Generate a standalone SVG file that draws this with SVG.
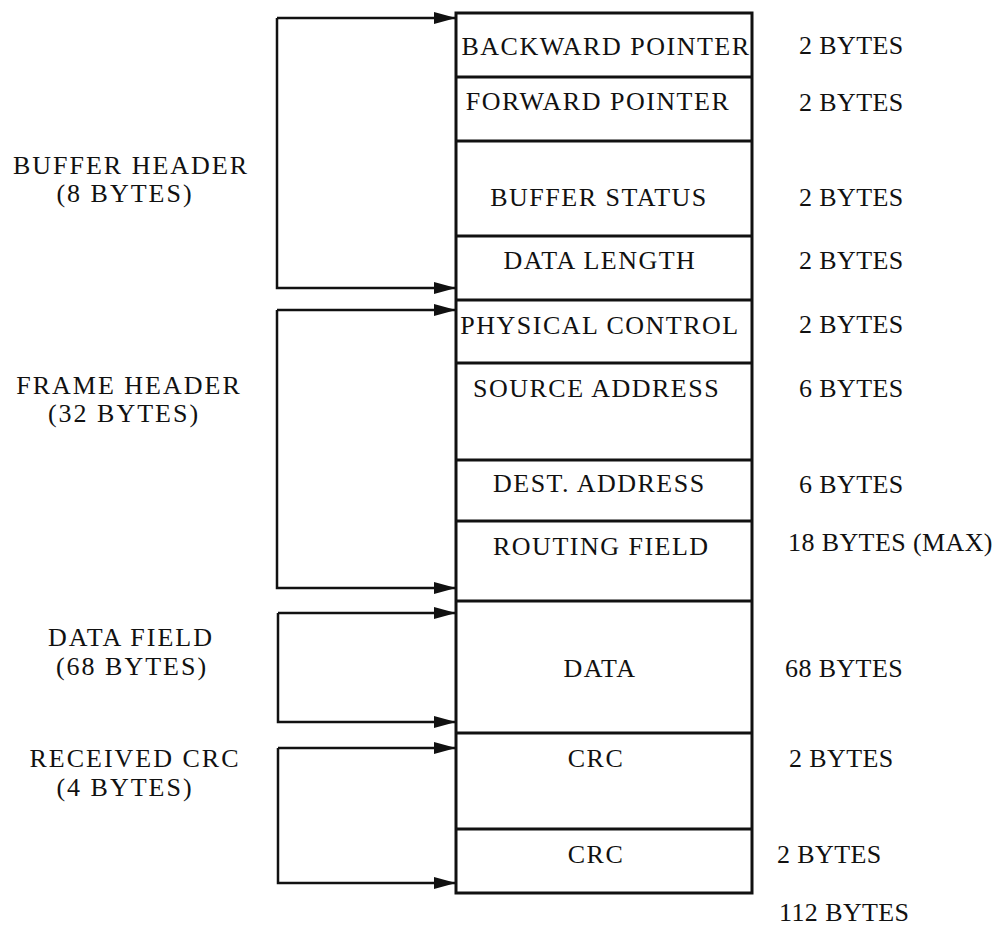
<svg xmlns="http://www.w3.org/2000/svg" width="999" height="928" viewBox="0 0 999 928">
<style>
text{font-family:"Liberation Serif","Times New Roman",serif;font-size:26px;letter-spacing:1.5px;fill:#111}
.m{text-anchor:middle}
.l{letter-spacing:2px}
.r{letter-spacing:0.4px}
.box{fill:none;stroke:#111;stroke-width:3}
.div{stroke:#111;stroke-width:3}
.br{fill:none;stroke:#111;stroke-width:2.5}
</style>
<defs>
<marker id="ah" markerUnits="userSpaceOnUse" markerWidth="22" markerHeight="12" refX="21" refY="6" orient="auto">
<path d="M0,0 L22,6 L0,12 Z" fill="#111"/>
</marker>
</defs>
<g id="frame-box">
<rect class="box" x="456" y="13" width="296" height="880"/>
</g>
<g id="field-dividers">
<line class="div" x1="456" y1="77" x2="752" y2="77"/>
<line class="div" x1="456" y1="141" x2="752" y2="141"/>
<line class="div" x1="456" y1="236" x2="752" y2="236"/>
<line class="div" x1="456" y1="300" x2="752" y2="300"/>
<line class="div" x1="456" y1="363" x2="752" y2="363"/>
<line class="div" x1="456" y1="460" x2="752" y2="460"/>
<line class="div" x1="456" y1="521" x2="752" y2="521"/>
<line class="div" x1="456" y1="601" x2="752" y2="601"/>
<line class="div" x1="456" y1="733" x2="752" y2="733"/>
<line class="div" x1="456" y1="829" x2="752" y2="829"/>
</g>
<g id="backward-pointer"><text class="m" x="606" y="55">BACKWARD POINTER</text><text class="r" x="799" y="54">2 BYTES</text></g>
<g id="forward-pointer"><text class="m" x="598" y="110">FORWARD POINTER</text><text class="r" x="799" y="111">2 BYTES</text></g>
<g id="buffer-status"><text class="m" x="599" y="206">BUFFER STATUS</text><text class="r" x="799" y="206">2 BYTES</text></g>
<g id="data-length"><text class="m" x="600" y="269">DATA LENGTH</text><text class="r" x="799" y="269">2 BYTES</text></g>
<g id="physical-control"><text class="m" x="600" y="334">PHYSICAL CONTROL</text><text class="r" x="799" y="333">2 BYTES</text></g>
<g id="source-address"><text x="473" y="397">SOURCE ADDRESS</text><text class="r" x="799" y="397">6 BYTES</text></g>
<g id="dest-address"><text x="493" y="492">DEST. ADDRESS</text><text class="r" x="799" y="493">6 BYTES</text></g>
<g id="routing-field"><text x="493" y="555">ROUTING FIELD</text><text class="r" x="788" y="551">18 BYTES (MAX)</text></g>
<g id="data"><text class="m" x="600" y="677">DATA</text><text class="r" x="785" y="677">68 BYTES</text></g>
<g id="crc-1"><text class="m" x="596" y="767">CRC</text><text class="r" x="789" y="767">2 BYTES</text></g>
<g id="crc-2"><text class="m" x="596" y="863">CRC</text><text class="r" x="777" y="863">2 BYTES</text></g>
<g id="total"><text class="r" x="779" y="921">112 BYTES</text></g>
<g id="buffer-header-label"><text class="m l" x="131" y="174">BUFFER HEADER</text><text class="m l" x="125" y="202">(8 BYTES)</text></g>
<g id="frame-header-label"><text class="m l" x="129" y="394">FRAME HEADER</text><text class="m l" x="124" y="422">(32 BYTES)</text></g>
<g id="data-field-label"><text class="m l" x="131" y="646">DATA FIELD</text><text class="m l" x="132" y="675">(68 BYTES)</text></g>
<g id="received-crc-label"><text class="m l" x="135" y="767">RECEIVED CRC</text><text class="m l" x="125" y="796">(4 BYTES)</text></g>
<g id="connectors">
<path class="br" d="M277,18 H455" marker-end="url(#ah)"/>
<path class="br" d="M277,18 V288 H455" marker-end="url(#ah)"/>
<path class="br" d="M277,310 H455" marker-end="url(#ah)"/>
<path class="br" d="M277,310 V588 H455" marker-end="url(#ah)"/>
<path class="br" d="M278,613 H455" marker-end="url(#ah)"/>
<path class="br" d="M278,613 V722 H455" marker-end="url(#ah)"/>
<path class="br" d="M278,748 H455" marker-end="url(#ah)"/>
<path class="br" d="M278,748 V883 H455" marker-end="url(#ah)"/>
</g>
</svg>
